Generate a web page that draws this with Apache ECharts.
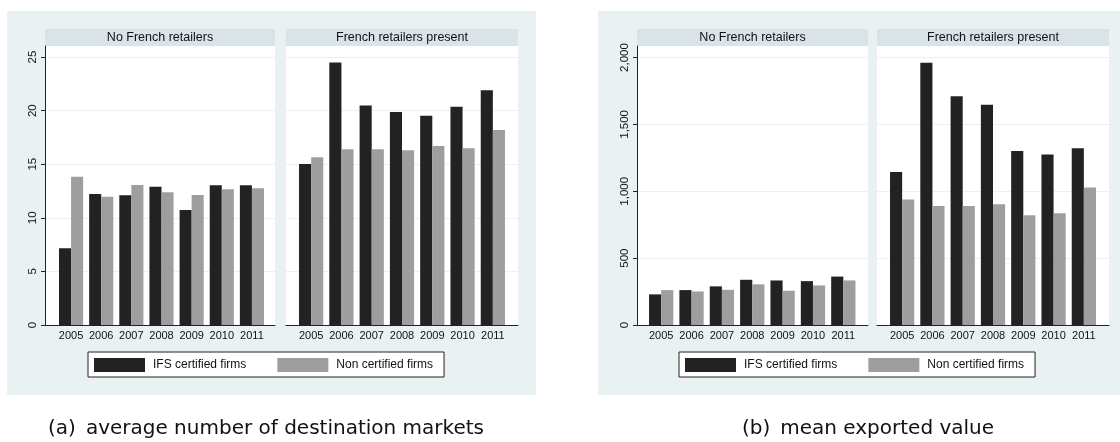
<!DOCTYPE html>
<html>
<head>
<meta charset="utf-8">
<script src="https://cdn.jsdelivr.net/npm/echarts@6/dist/echarts.min.js"></script>
<style>
html,body{margin:0;padding:0;background:#fff;}
#chart{width:1120px;height:442px;}
</style>
</head>
<body>
<div id="chart"></div>
<script>
// ---- data ----
const years = ['2005','2006','2007','2008','2009','2010','2011'];
const facetNames = ['No French retailers', 'French retailers present'];
const seriesNames = ['IFS certified firms', 'Non certified firms'];

// (a) average number of destination markets
const marketsNoFrIFS  = [7.15, 12.22, 12.1, 12.9, 10.73, 13.03, 13.03];
const marketsNoFrNon  = [13.83, 11.97, 13.06, 12.38, 12.13, 12.66, 12.75];
const marketsFrIFS    = [15.02, 24.5, 20.49, 19.87, 19.53, 20.37, 21.89];
const marketsFrNon    = [15.64, 16.39, 16.39, 16.3, 16.7, 16.48, 18.19];

// (b) mean exported value
const valueNoFrIFS = [229, 261, 289, 338, 333, 328, 362];
const valueNoFrNon = [261, 251, 263, 304, 256, 296, 333];
const valueFrIFS   = [1144, 1960, 1711, 1647, 1301, 1274, 1321];
const valueFrNon   = [938, 890, 890, 903, 821, 836, 1028];

const captions = ['(a)\u2002average number of destination markets', '(b)\u2002mean exported value'];
const yTicksA = [0, 5, 10, 15, 20, 25];
const yTicksB = [0, 500, 1000, 1500, 2000];

// ---- layout ----
const W = 1120, TOP = 46, BOTTOM = 442 - 325;
const BG = '#e9f1f3', STRIP = '#d9e4ea', GRIDC = '#e9f1f3';
const C_IFS = '#222222', C_NON = '#9e9e9e';
const FONT = '"Liberation Sans", Arial, sans-serif';

const panels = [
  { ymax: 26.03, interval: 5, ticks: yTicksA, data: [[marketsNoFrIFS, marketsNoFrNon],[marketsFrIFS, marketsFrNon]],
    frames: [[45, 275],[286, 518]], bars: [[56, 267],[296, 508]], bg: [7, 536], legendLeft: 88, capX: 266 },
  { ymax: 2086, interval: 500, ticks: yTicksB, data: [[valueNoFrIFS, valueNoFrNon],[valueFrIFS, valueFrNon]],
    frames: [[637, 868],[877, 1109]], bars: [[646, 858.5],[887, 1099]], bg: [598, 1120], legendLeft: 679, capX: 868 }
];

function fmt(v){ return String(Math.round(v)).replace(/\B(?=(\d{3})+(?!\d))/g, ','); }

const grid = [], xAxis = [], yAxis = [], series = [], legend = [], graphic = [];

panels.forEach((p, pi) => {
  graphic.push({ type: 'rect', z: -10, shape: { x: p.bg[0], y: 11, width: p.bg[1] - p.bg[0], height: 384 }, style: { fill: BG } });
  graphic.push({ type: 'text', z: 10, x: p.capX, y: 429, style: { text: captions[pi], font: '20px "DejaVu Sans", sans-serif', fill: '#111', align: 'center', verticalAlign: 'middle' } });
  for (let f = 0; f < 2; f++) {
    const fr = p.frames[f], br = p.bars[f];
    graphic.push({ type: 'rect', z: -5, shape: { x: fr[0], y: 29, width: fr[1] - fr[0], height: 17 }, style: { fill: STRIP } });
    graphic.push({ type: 'text', z: 10, x: (fr[0] + fr[1]) / 2, y: 38, style: { text: facetNames[f], font: '12.5px ' + FONT, fill: '#111', align: 'center', verticalAlign: 'middle' } });
    const gi = grid.length;
    grid.push({ left: fr[0], right: W - fr[1], top: TOP, bottom: BOTTOM, show: true, backgroundColor: '#fff', borderWidth: 0, z: 0 });
    xAxis.push({ gridIndex: gi, type: 'value', min: 0, max: 1, axisLine: { show: true, onZero: false, lineStyle: { color: '#222', width: 1 } },
      axisLabel: { show: false }, axisTick: { show: false }, splitLine: { show: false } });
    yAxis.push({ gridIndex: gi, type: 'value', min: 0, max: p.ymax, interval: p.interval,
      axisLine: { show: f === 0, lineStyle: { color: '#222', width: 1 } },
      axisTick: { show: f === 0, length: 4, lineStyle: { color: '#222' }, customValues: p.ticks },
      axisLabel: { show: f === 0, rotate: 90, margin: 6, fontSize: 11.5, fontFamily: FONT, color: '#111',
        customValues: p.ticks, formatter: v => fmt(v) },
      splitLine: { show: true, lineStyle: { color: GRIDC, width: 1 } } });
    const bi = grid.length;
    grid.push({ left: br[0], right: W - br[1], top: TOP, bottom: BOTTOM });
    xAxis.push({ gridIndex: bi, type: 'category', data: years, axisLine: { show: false }, axisTick: { show: false },
      axisLabel: { margin: 5, fontSize: 11, fontFamily: FONT, color: '#111', interval: 0 } });
    yAxis.push({ gridIndex: bi, type: 'value', min: 0, max: p.ymax, show: false, splitLine: { show: false } });
    seriesNames.forEach((nm, si) => {
      series.push({ type: 'bar', name: nm, xAxisIndex: bi, yAxisIndex: bi, data: p.data[f][si],
        barGap: '0%', barCategoryGap: '20%', itemStyle: { color: si === 0 ? C_IFS : C_NON }, z: 3, animation: false });
    });
  }
  legend.push({ left: p.legendLeft, top: 352, orient: 'horizontal', icon: 'rect', itemWidth: 51, itemHeight: 14, itemGap: 31,
    padding: [6, 11, 5, 6], borderColor: '#222', borderWidth: 1, backgroundColor: '#fff',
    textStyle: { fontSize: 12, fontFamily: FONT, color: '#111', padding: [0, 0, 0, 3] }, data: seriesNames, selectedMode: false });
});

const chart = echarts.init(document.getElementById('chart'), null, { renderer: 'canvas' });
chart.setOption({ animation: false, backgroundColor: '#fff', grid, xAxis, yAxis, series, legend, graphic });
</script>
</body>
</html>
